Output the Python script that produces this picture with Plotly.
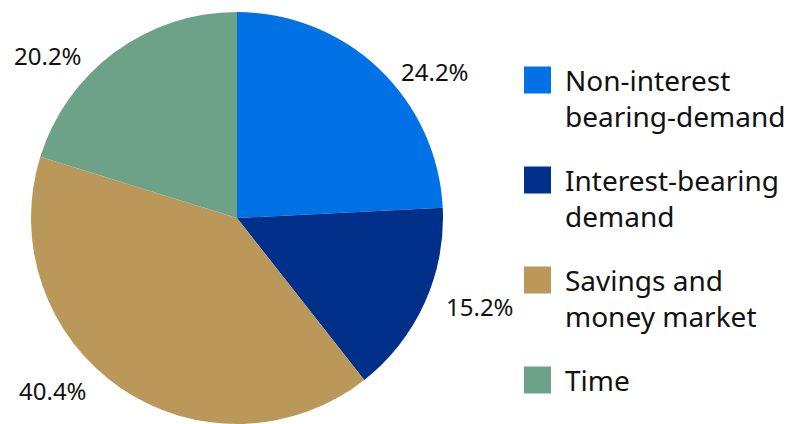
import math
import plotly.graph_objects as go

# Deposit mix
labels = ["Non-interest<br>bearing-demand", "Interest-bearing<br>demand",
          "Savings and<br>money market", "Time"]
values = [24.2, 15.2, 40.4, 20.2]
colors = ["#0072e5", "#00308a", "#b9985a", "#6ea288"]

# the page puts the plot 8px in from the top-left corner of the window
PAGE = 8
W, H = 792 - PAGE, 424 - PAGE
TOP = 12 - PAGE
PLOT_H = H - TOP


def px(x, y):
    # window pixel -> paper coords
    return (x - PAGE) / W, 1 - (y - PAGE - TOP) / PLOT_H


# pie box in window pixels
CX, CY, R = 237, 218, 206
x0, _ = px(CX - R, 0)
x1, _ = px(CX + R, 0)

fig = go.Figure(go.Pie(
    labels=labels,
    values=values,
    sort=False,
    direction="clockwise",
    rotation=0,
    marker=dict(colors=colors, line=dict(width=0)),
    textinfo="none",
    showlegend=False,
    domain=dict(x=[x0, x1], y=[0, 1]),
    hoverinfo="label+percent",
))

# percent labels just outside each slice
total = sum(values)
cum = 0
for v in values:
    mid = (cum + v / 2) / total * 2 * math.pi
    cum += v
    sx, sy = math.sin(mid), math.cos(mid)
    ax, ay = px(CX + R * sx, CY - R * sy)
    right = sx > 0
    fig.add_annotation(xref="paper", yref="paper", x=ax, y=ay,
                       xanchor="left" if right else "right", yanchor="middle",
                       xshift=20 if right else -31, yshift=-3, showarrow=False,
                       text=f"{v / total:.1%}",
                       font=dict(size=24, color="#111111", family="Noto Sans"))

# hand-built legend so the swatches can be large
for i, (lab, col) in enumerate(zip(labels, colors)):
    yc = 80 + 100 * i
    sx0, sy0 = px(524, yc - 13.5)
    sx1, sy1 = px(551, yc + 13.5)
    fig.add_shape(type="rect", xref="paper", yref="paper",
                  x0=sx0, x1=sx1, y0=sy0, y1=sy1,
                  fillcolor=col, line=dict(width=0))
    tx, ty = px(563, yc - 21)
    fig.add_annotation(xref="paper", yref="paper", x=tx, y=ty,
                       xanchor="left", yanchor="top", align="left", showarrow=False,
                       text=lab, font=dict(size=28, color="#111111", family="Noto Sans"))

fig.update_layout(
    width=W, height=H,
    margin=dict(l=0, r=0, t=TOP, b=0),
    paper_bgcolor="white",
    plot_bgcolor="white",
    font=dict(family="Noto Sans", color="#111111"),
)

fig.write_html("out.html")
